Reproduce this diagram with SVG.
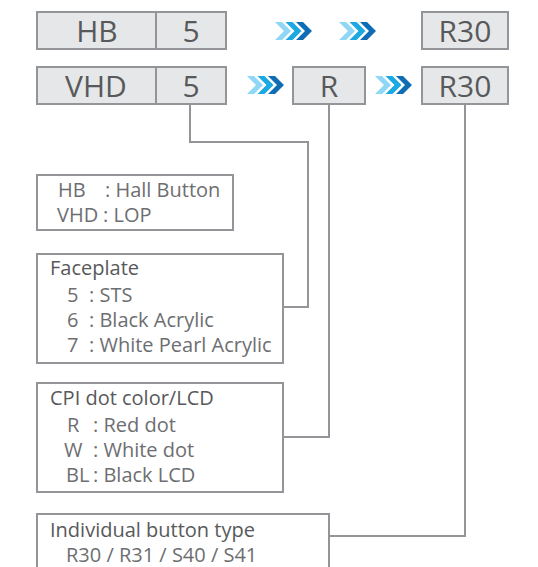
<svg xmlns="http://www.w3.org/2000/svg" width="538" height="567" viewBox="0 0 538 567">
<style>
.box{fill:#e6e7e8;stroke:#939598;stroke-width:2}
.leg{fill:#ffffff;stroke:#939598;stroke-width:2}
.big{font-family:"Open Sans","Noto Sans",sans-serif;font-size:30px;fill:#58595b;text-anchor:middle}
.t{font-family:"Open Sans","Noto Sans",sans-serif;font-size:20px;fill:#58595b}
.e{font-family:"Open Sans","Noto Sans",sans-serif;font-size:20px;fill:#6d6e71}
.conn{fill:none;stroke:#939598;stroke-width:2}
.c1{fill:#8fd7f7}.c2{fill:#1ba9e1}.c3{fill:#0e6db5}
</style>
<defs>
<g id="chev">
<polygon class="c1" points="0,-9 7,-9 16,0 7,9 0,9 9,0"/>
<polygon class="c2" points="10.5,-9 17.5,-9 26.5,0 17.5,9 10.5,9 19.5,0"/>
<polygon class="c3" points="21,-9 28,-9 37,0 28,9 21,9 30,0"/>
</g>
</defs>
<g id="connectors">
<polyline class="conn" points="190,104 190,142 308,142 308,307 283,307"/>
<polyline class="conn" points="329,104 329,437 283,437"/>
<polyline class="conn" points="465,104 465,536 329,536"/>
<use href="#chev" x="275" y="31"/>
<use href="#chev" x="339" y="31"/>
<use href="#chev" x="247" y="85"/>
<use href="#chev" x="375" y="85"/>
</g>
<g id="hb">
<rect class="box" x="37" y="12" width="119" height="37"/>
<text class="big" x="97" y="42">HB</text>
</g>
<g id="hb5">
<rect class="box" x="156" y="12" width="70" height="37"/>
<text class="big" x="191" y="42">5</text>
</g>
<g id="hbr30">
<rect class="box" x="422" y="12" width="86" height="37"/>
<text class="big" x="465" y="42">R30</text>
</g>
<g id="vhd">
<rect class="box" x="37" y="67" width="119" height="37"/>
<text class="big" x="96" y="97">VHD</text>
</g>
<g id="vhd5">
<rect class="box" x="156" y="67" width="70" height="37"/>
<text class="big" x="191" y="97">5</text>
</g>
<g id="vhdr">
<rect class="box" x="293" y="67" width="72" height="37"/>
<text class="big" x="329" y="97">R</text>
</g>
<g id="vhdr30">
<rect class="box" x="422" y="67" width="86" height="37"/>
<text class="big" x="465" y="97">R30</text>
</g>
<g id="legend-type">
<rect class="leg" x="37" y="175" width="196" height="55"/>
<text class="e" x="58" y="197">HB</text>
<text class="e" x="105" y="197">: Hall Button</text>
<text class="e" x="57" y="222">VHD</text>
<text class="e" x="103" y="222">: LOP</text>
</g>
<g id="legend-faceplate">
<rect class="leg" x="37" y="254" width="246" height="109"/>
<text class="t" x="50" y="275">Faceplate</text>
<text class="e" x="67" y="302">5</text>
<text class="e" x="89" y="302">: STS</text>
<text class="e" x="67" y="327">6</text>
<text class="e" x="89" y="327">: Black Acrylic</text>
<text class="e" x="67" y="352">7</text>
<text class="e" x="89" y="352">: White Pearl Acrylic</text>
</g>
<g id="legend-cpi">
<rect class="leg" x="37" y="383" width="246" height="109"/>
<text class="t" x="50" y="405">CPI dot color/LCD</text>
<text class="e" x="67" y="432">R</text>
<text class="e" x="93" y="432">: Red dot</text>
<text class="e" x="64" y="457">W</text>
<text class="e" x="93" y="457">: White dot</text>
<text class="e" x="66" y="482">BL</text>
<text class="e" x="93" y="482">: Black LCD</text>
</g>
<g id="legend-button">
<rect class="leg" x="37" y="514" width="292" height="60"/>
<text class="t" x="50" y="537">Individual button type</text>
<text class="e" x="66" y="562">R30 / R31 / S40 / S41</text>
</g>
</svg>
